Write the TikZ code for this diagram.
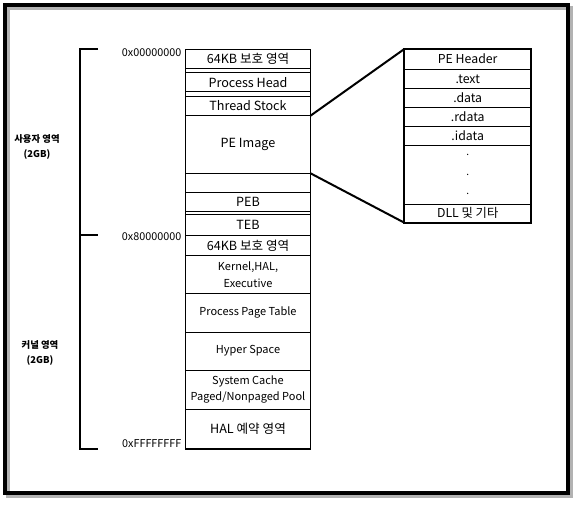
\documentclass[tikz,border=0pt]{standalone}
\usepackage{fontspec}
\setmainfont{Noto Sans CJK KR}
\usetikzlibrary{positioning}

\begin{document}
\begin{tikzpicture}[
  x=1pt, y=-1pt,
  node distance=0pt,
  memrow/.style={draw,line width=1pt,minimum width=125pt,inner sep=0pt,outer sep=0pt,
    align=center,font=\fontsize{12.6}{14}\selectfont},
  smallrow/.style={memrow,font=\fontsize{11}{16.5}\selectfont},
  perow/.style={draw,line width=1pt,minimum width=126.7pt,minimum height=19pt,inner sep=0pt,
    outer sep=0pt,align=center,font=\fontsize{12.3}{14}\selectfont},
  addr/.style={inner sep=0pt,font=\fontsize{10.8}{12}\selectfont},
  region/.style={align=center,inner sep=0pt,font=\bfseries\fontsize{9.4}{14.5}\selectfont},
  zoomline/.style={line width=2pt},
  bracket/.style={line width=2pt}
]
  \useasboundingbox (0,0) rectangle (579,504);
  % outer frame with its shadow
  \draw[line width=4.3pt,black!30] (8,8) rectangle (571,496);
  \draw[line width=4.3pt] (5,5) rectangle (568,493);

  % user part of the address space
  \node[memrow,minimum height=19pt] (guard) at (248,58.8) {64KB 보호 영역};
  \node[memrow,minimum height=19pt,below=4.4pt of guard] (phead) {Process Head};
  \node[memrow,minimum height=19.7pt,below=4.3pt of phead] (tstock) {Thread Stock};
  \node[memrow,minimum height=57.6pt,below=of tstock] (peimg) {PE Image};
  \node[memrow,minimum height=19.4pt,below=of peimg] (gap) {};
  \node[memrow,minimum height=18.6pt,below=of gap] (peb) {PEB};
  \node[memrow,minimum height=20.3pt,below=3.4pt of peb] (teb) {TEB};
  % kernel part
  \node[memrow,minimum height=20.7pt,below=of teb] (kguard) {64KB 보호 영역};
  \node[smallrow,minimum height=38pt,below=of kguard] (kernel) {Kernel,HAL,\\Executive};
  \node[smallrow,minimum height=38.3pt,below=of kernel] (ppt) {Process Page Table};
  \node[smallrow,minimum height=38.3pt,below=of ppt] (hyper) {Hyper Space};
  \node[smallrow,minimum height=38.7pt,below=of hyper] (cache) {System Cache\\Paged/Nonpaged Pool};
  \node[memrow,minimum height=40pt,below=of cache] (hal) {HAL 예약 영역};
  \draw[line width=1.6pt] (guard.north west) rectangle (hal.south east);

  % addresses
  \node[addr,anchor=base east] (a0) at ([xshift=-4pt,yshift=-7.5pt]guard.north west) {0x00000000};
  \node[addr,anchor=base east] (a8) at ([xshift=-4pt,yshift=-5pt]teb.south west) {0x80000000};
  \node[addr,anchor=base east] (af) at ([xshift=-4pt,yshift=2pt]hal.south west) {0xFFFFFFFF};

  % bracket and region names
  \draw[bracket] (98,49.3) -- (80,49.3) -- (80,449) -- (98,449);
  \draw[bracket] (80,235) -- (98,235);
  \node[region] (user) at (37,147) {사용자 영역\\(2GB)};
  \node[region] (kern) at (40,353) {커널 영역\\(2GB)};

  % PE image layout
  \node[perow,minimum height=20.3pt] (pehdr) at (467.7,59.15) {PE Header};
  \node[perow,below=of pehdr] (text) {.text};
  \node[perow,below=of text] (data) {.data};
  \node[perow,below=of data] (rdata) {.rdata};
  \node[perow,minimum height=19.4pt,below=of rdata] (idata) {.idata};
  \node[perow,minimum height=58.3pt,below=of idata,font=\fontsize{10}{19.5}\selectfont] (dots) {.\\.\\.};
  \node[perow,minimum height=18.7pt,below=of dots] (dll) {DLL 및 기타};
  \draw[line width=2pt] (pehdr.north west) rectangle (dll.south east);

  \draw[zoomline] (tstock.south east) -- (pehdr.north west);
  \draw[zoomline] (peimg.south east) -- (dll.south west);
\end{tikzpicture}
\end{document}
